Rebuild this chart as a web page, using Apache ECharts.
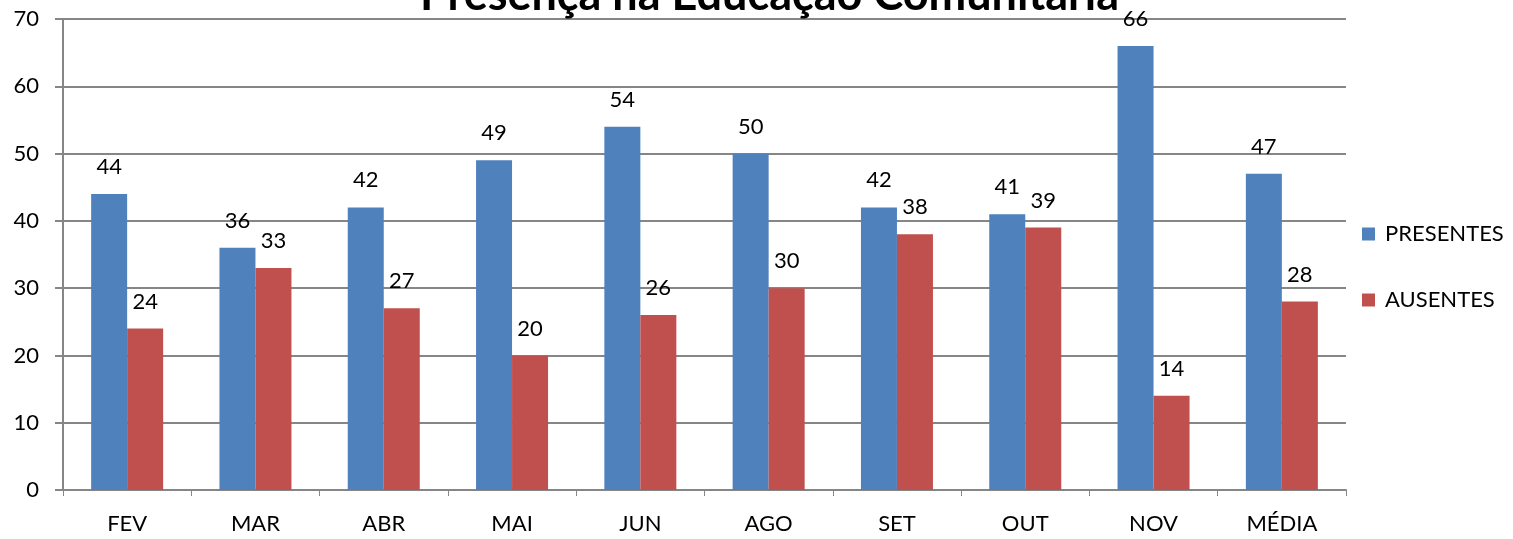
<!DOCTYPE html>
<html>
<head>
<meta charset="utf-8">
<script src="https://cdn.jsdelivr.net/npm/echarts@6/dist/echarts.min.js"></script>
<style>
html,body{margin:0;padding:0;background:#fff;}
#chart{width:1513px;height:539px;}
</style>
</head>
<body>
<div id="chart"></div>
<script>
const categories = ['FEV','MAR','ABR','MAI','JUN','AGO','SET','OUT','NOV','MÉDIA'];
const presentes = [44,36,42,49,54,50,42,41,66,47];
const ausentes = [24,33,27,20,26,30,38,39,14,28];
const yTicks = [0,10,20,30,40,50,60,70];

const font = 'Lato, "Open Sans", sans-serif';
const chart = echarts.init(document.getElementById('chart'));
chart.setOption({
  backgroundColor: '#fff',
  animation: false,
  textStyle: {fontFamily: font},
  title: {
    text: 'Presença na Educação Comunitária',
    left: 420,
    top: -27,
    padding: 0,
    textStyle: {fontSize: 45, fontWeight: 'bold', color: '#000', fontFamily: font}
  },
  legend: {
    orient: 'vertical',
    left: 1357,
    top: 218,
    itemGap: 44,
    itemWidth: 13,
    itemHeight: 13,
    icon: 'rect',
    textStyle: {fontSize: 22, color: '#000', fontFamily: font, padding: [0,0,0,5]},
    data: ['PRESENTES','AUSENTES']
  },
  grid: {left: 63, right: 167, top: 19, bottom: 49, containLabel: false},
  xAxis: {
    type: 'category',
    data: categories,
    axisLine: {lineStyle: {color: '#868686', width: 2}},
    axisTick: {show: true, alignWithLabel: false, length: 6, lineStyle: {color: '#868686', width: 1}},
    axisLabel: {fontSize: 22, color: '#000', margin: 23, fontFamily: font}
  },
  yAxis: {
    type: 'value',
    min: yTicks[0],
    max: yTicks[yTicks.length-1],
    interval: 10,
    axisLine: {show: true, lineStyle: {color: '#868686', width: 2}},
    axisTick: {show: true, length: 8, inside: false, lineStyle: {color: '#868686', width: 2}},
    axisLabel: {fontSize: 22, color: '#000', margin: 24, fontFamily: font},
    splitLine: {lineStyle: {color: '#868686', width: 2}}
  },
  series: [
    {
      name: 'PRESENTES', type: 'bar', data: presentes,
      barWidth: 36, barGap: '0%',
      itemStyle: {color: '#4F81BD'},
      label: {show: true, position: 'top', distance: 16, fontSize: 22, color: '#000', fontFamily: font}
    },
    {
      name: 'AUSENTES', type: 'bar', data: ausentes,
      barWidth: 36, barGap: '0%',
      itemStyle: {color: '#C0504D'},
      label: {show: true, position: 'top', distance: 16, fontSize: 22, color: '#000', fontFamily: font}
    }
  ]
});
</script>
</body>
</html>
